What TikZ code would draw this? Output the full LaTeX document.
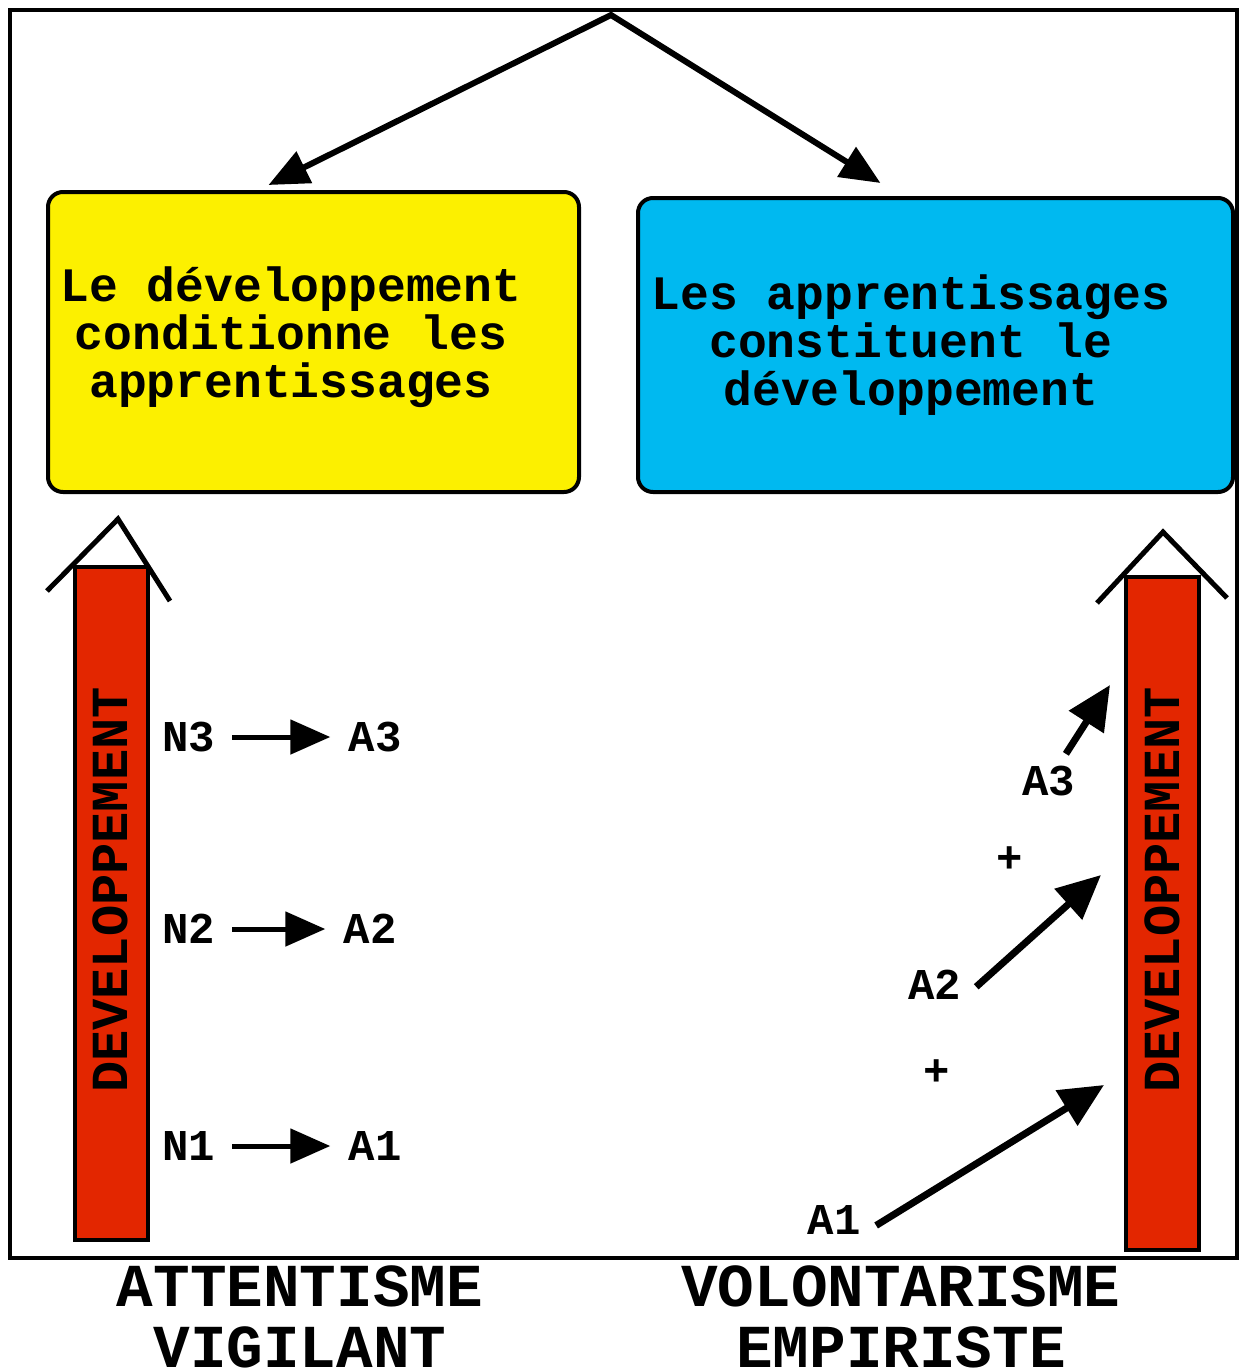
\documentclass[tikz,border=0pt]{standalone}
\usepackage{fontspec}
\setmainfont{Liberation Mono}
\setmonofont{Liberation Mono}
\usepackage{tikz}
\usetikzlibrary{shapes}
\usetikzlibrary{arrows.meta}
\usetikzlibrary{positioning}
\definecolor{devyellow}{RGB}{252,240,0}
\definecolor{devblue}{RGB}{0,185,240}
\definecolor{devred}{RGB}{227,38,0}

\begin{document}
\begin{tikzpicture}[x=0.5pt,y=-0.5pt]
\tikzstyle{idea}=[rectangle,rounded corners=7.5pt,draw=black,line width=2pt]
\tikzstyle{ideatext}=[align=center,inner sep=0pt,
font=\fontsize{24}{24}\selectfont\bfseries]
\tikzstyle{bar}=[rectangle,rotate=90,draw=black,fill=devred,line width=2pt,
minimum width=336.5pt,minimum height=36.5pt,inner sep=0pt]
\tikzstyle{bartext}=[rotate=90,inner sep=0pt,font=\fontsize{26}{26}\selectfont\bfseries]
\tikzstyle{chevron}=[line width=2.5pt]
\tikzstyle{lbl}=[inner sep=0pt,font=\fontsize{22}{22}\selectfont\bfseries]
\tikzstyle{title}=[anchor=base,inner sep=0pt,
font=\fontsize{30.5}{30.5}\selectfont\bfseries]
\tikzstyle{link}=[-{Triangle[length=20pt,width=17pt]},line width=2.5pt]
\tikzstyle{growth}=[-{Triangle[length=22pt,width=20pt]},line width=3.5pt]
\useasboundingbox (0,0) rectangle (1239,1371);
\draw[line width=2pt] (10,10) rectangle (1237,1258);
% the two ideas
\node[idea,fill=devyellow,minimum width=265.5pt,minimum height=150pt] (dev) at (313.5,342) {};
\node[idea,fill=devblue,minimum width=297.5pt,minimum height=147pt] (app) at (935.5,345) {};
\node[ideatext] (devtext) at (291,337) {Le développement\\conditionne les\\apprentissages};
\node[ideatext] (apptext) at (911,345) {Les apprentissages\\constituent le\\développement};
\coordinate (apex) at (611,15);
\draw[{Triangle[length=20pt,width=17pt]}-{Triangle[length=20pt,width=17pt]},line width=3pt]
([shift={(-45,-5)}]dev.north) -- (apex) -- ([shift={(-55,-13)}]app.north);
% development bars
\node[bar] (lbar) at (111.5,903.5) {};
\node[bar] (rbar) at (1162,913.5) {};
\node[bartext] (ltext) at (110,890) {DEVELOPPEMENT};
\node[bartext] (rtext) at (1162,890) {DEVELOPPEMENT};
\draw[chevron] ([shift={(-64.5,26)}]lbar.east) -- ([shift={(6.5,-46)}]lbar.east)
-- ([shift={(58.5,36)}]lbar.east);
\draw[chevron] ([shift={(-65,28)}]rbar.east) -- ([shift={(1,-43)}]rbar.east)
-- ([shift={(65,23)}]rbar.east);
% attentisme
\node[lbl] (n3) at (188.5,737) {N3};
\node[lbl,right=66.5pt of n3] (a3) {A3};
\node[lbl] (n2) at (188.5,929) {N2};
\node[lbl,right=64pt of n2] (a2) {A2};
\node[lbl] (n1) at (188.5,1146) {N1};
\node[lbl,right=66.5pt of n1] (a1) {A1};
\foreach \n/\a in {n3/a3,n2/a2,n1/a1}
\draw[link,shorten <=8.5pt,shorten >=9pt] (\n) -- (\a);
% volontarisme
\node[lbl] (b3) at (1048.5,781) {A3};
\node[lbl] (plus2) at (1010,860) {+};
\node[lbl] (b2) at (934.5,985) {A2};
\node[lbl] (plus1) at (937,1073) {+};
\node[lbl] (b1) at (834,1220) {A1};
\coordinate (t3) at (1110,685);
\coordinate (t2) at (1101,875);
\coordinate (t1) at (1104,1085);
\draw[growth,shorten <=7pt] (b3) -- (t3);
\draw[growth,shorten <=10pt] (b2.south east) -- (t2);
\draw[growth,shorten <=9pt] (b1.south east) -- (t1);
% titles
\node[title] (att1) at (300,1306) {ATTENTISME};
\node[title] (att2) at (300,1367) {VIGILANT};
\node[title] (vol1) at (901,1306) {VOLONTARISME};
\node[title] (vol2) at (901,1367) {EMPIRISTE};
\end{tikzpicture}
\end{document}
